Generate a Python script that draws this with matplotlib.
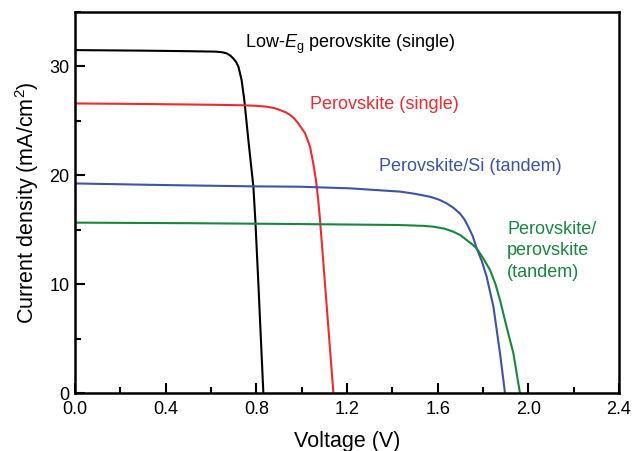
import matplotlib
matplotlib.use("Agg")
import matplotlib.pyplot as plt
from matplotlib.ticker import MultipleLocator

plt.rcParams['font.family'] = ['Liberation Sans', 'DejaVu Sans']
plt.rcParams['mathtext.fontset'] = 'custom'
plt.rcParams['mathtext.rm'] = 'Liberation Sans'
plt.rcParams['mathtext.it'] = 'Liberation Sans:italic'

# Low-Eg perovskite (single)
v_low = [0.0, 0.3, 0.5, 0.62, 0.65, 0.669, 0.685, 0.698, 0.711, 0.721, 0.735, 0.747, 0.765, 0.787, 0.796, 0.81, 0.82, 0.831]
j_low = [31.5, 31.45, 31.4, 31.36, 31.3, 31.2, 31.0, 30.74, 30.4, 29.98, 28.75, 26.9, 23.2, 18.95, 15.7, 9.6, 5.0, 0.0]

# Perovskite (single)
v_pvk = [0.0, 0.3, 0.6, 0.743, 0.8, 0.846, 0.878, 0.904, 0.93, 0.949, 0.968, 0.985, 1.015, 1.037, 1.051, 1.063, 1.073, 1.081, 1.10, 1.12, 1.14]
j_pvk = [26.6, 26.55, 26.48, 26.43, 26.38, 26.3, 26.18, 26.0, 25.78, 25.54, 25.2, 24.77, 23.86, 22.63, 21.1, 19.57, 17.73, 15.9, 10.8, 5.4, 0.0]

# Perovskite/Si (tandem)
v_si = [0.0, 0.4, 0.8, 0.993, 1.213, 1.434, 1.5, 1.566, 1.605, 1.64, 1.67, 1.698, 1.718, 1.735, 1.755, 1.772, 1.795, 1.816, 1.846, 1.875, 1.897]
j_si = [19.25, 19.1, 18.98, 18.95, 18.8, 18.5, 18.3, 18.03, 17.77, 17.42, 17.0, 16.5, 15.95, 15.28, 14.4, 13.29, 12.1, 10.69, 7.93, 3.65, 0.0]

# Perovskite/perovskite (tandem)
v_pp = [0.0, 0.5, 0.993, 1.434, 1.54, 1.581, 1.63, 1.669, 1.7, 1.728, 1.75, 1.772, 1.8, 1.831, 1.855, 1.875, 1.904, 1.934, 1.963]
j_pp = [15.65, 15.6, 15.52, 15.43, 15.35, 15.28, 15.1, 14.82, 14.5, 14.05, 13.7, 13.29, 12.4, 11.3, 10.0, 8.54, 6.09, 3.65, 0.0]

x_ticks = [0.0, 0.4, 0.8, 1.2, 1.6, 2.0, 2.4]
x_ticklabels = ['0.0', '0.4', '0.8', '1.2', '1.6', '2.0', '2.4']
y_ticks = [0, 10, 20, 30]

c_black = '#000000'
c_red = '#ee2a2f'
c_blue = '#3c53a6'
c_green = '#18863c'

fig = plt.figure(figsize=(6.32, 4.51), dpi=100)
ax = fig.add_axes([75/632, 1 - 393/451, 544/632, 381/451])

lw = 1.5
ax.plot(v_low, j_low, color=c_black, lw=lw, solid_joinstyle='round')
ax.plot(v_pvk, j_pvk, color=c_red, lw=lw, solid_joinstyle='round')
ax.plot(v_si, j_si, color=c_blue, lw=lw, solid_joinstyle='round')
ax.plot(v_pp, j_pp, color=c_green, lw=lw, solid_joinstyle='round')

ax.set_xlim(0, 2.4)
ax.set_ylim(0, 35)
ax.set_xticks(x_ticks)
ax.set_xticklabels(x_ticklabels)
ax.set_yticks(y_ticks)
ax.xaxis.set_minor_locator(MultipleLocator(0.2))
ax.yaxis.set_minor_locator(MultipleLocator(5))
ax.tick_params(axis='both', which='major', direction='in', length=7, width=1.5,
               labelsize=13, top=False, right=False)
ax.tick_params(axis='x', which='major', pad=6)
ax.tick_params(axis='y', which='major', pad=4)
ax.tick_params(axis='both', which='minor', direction='in', length=4, width=1.5,
               top=False, right=False)
for s in ax.spines.values():
    s.set_linewidth(1.8)

ax.set_xlabel('Voltage (V)', fontsize=15.5, labelpad=9)
ax.set_ylabel('Current density (mA/cm$^{2}$)', fontsize=15.5, labelpad=6)

fs = 13
ax.text(0.75, 32.0, 'Low-$\\mathit{E}_\\mathrm{g}$ perovskite (single)', color=c_black,
        fontsize=fs, va='center', ha='left')
ax.text(1.037, 26.5, 'Perovskite (single)', color=c_red, fontsize=fs, va='center', ha='left')
ax.text(1.34, 20.8, 'Perovskite/Si (tandem)', color=c_blue, fontsize=fs, va='center', ha='left')
ax.text(1.906, 15.8, 'Perovskite/\nperovskite\n(tandem)', color=c_green, fontsize=fs,
        va='top', ha='left', linespacing=1.33)

fig.savefig('out.png', dpi=100)
